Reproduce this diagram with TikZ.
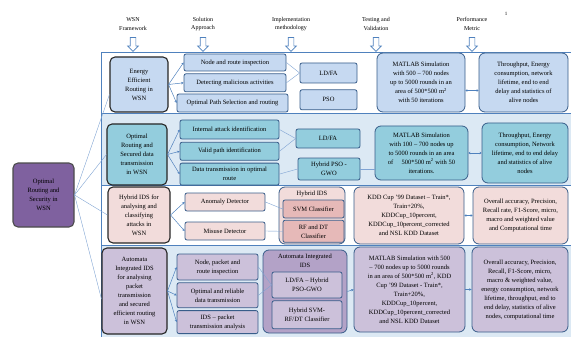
\documentclass[tikz,border=0pt]{standalone}
\usepackage{fontspec}
\setmainfont{Liberation Serif}
\usepackage{xcolor}
\usetikzlibrary{shapes.arrows, arrows.meta, positioning}

\definecolor{frameblue}{HTML}{4F81BD}
\definecolor{boxedge}{HTML}{385D8A}
\definecolor{linkblue}{HTML}{7FA3D3}
\definecolor{rowbg}{HTML}{DCE9F4}
\definecolor{bluefill}{HTML}{C6D9F1}
\definecolor{tealfill}{HTML}{93CDDD}
\definecolor{pinkfill}{HTML}{F2DCDB}
\definecolor{pinkdark}{HTML}{E6B9B8}
\definecolor{lilac}{HTML}{CCC1DA}
\definecolor{lilacdark}{HTML}{B3A2C7}
\definecolor{rootpurple}{HTML}{7F619F}

\begin{document}
\begin{tikzpicture}[
  x=1pt, y=-1pt,
  font=\fontsize{6.5}{9}\selectfont,
  wh/.style 2 args={minimum width=#1pt, minimum height=#2pt},
  hdr/.style={align=center, font=\fontsize{6}{8.5}\selectfont},
  down/.style={single arrow, draw=frameblue, fill=white, line width=0.7pt, shape border rotate=270, minimum height=14pt, inner sep=2.5pt, single arrow head extend=2.5pt},
  head/.style={draw=black!85, line width=1.1pt, rounded corners=5pt, align=center, inner sep=1pt},
  sub/.style={draw=boxedge, line width=0.8pt, rounded corners=2pt, align=center, inner sep=1pt},
  big/.style={draw=boxedge, line width=0.8pt, rounded corners=6pt, align=center, inner sep=2pt},
  link/.style={draw=linkblue, line width=0.4pt},
  arrow/.style={-{Stealth[length=2.5pt,width=2.5pt]}, frameblue, line width=0.5pt},
  both/.style={{Stealth[length=2pt,width=2.5pt]}-{Stealth[length=2pt,width=2.5pt]}, frameblue, line width=0.5pt}
]
\useasboundingbox (0,0) rectangle (571,337);

% Frame and row bands
\fill[rowbg] (101,113) rectangle (575,185);
\fill[rowbg] (101,245) rectangle (575,340);
\draw[frameblue, line width=0.8pt] (575,52) -- (101,52) -- (101,340);
\draw[frameblue, line width=0.8pt] (101,113) -- (575,113);
\draw[frameblue, line width=0.8pt] (101,185) -- (575,185);
\draw[frameblue, line width=0.8pt] (101,245) -- (575,245);

% Column headers
\node[font=\fontsize{5}{6}\selectfont] (pageno) at (506,14) {1};
\node[hdr] (hwsn) at (133,24) {WSN\\Framework};
\node[hdr] (hsol) at (203,24) {Solution\\Approach};
\node[hdr] (himp) at (291,24) {Implementation\\methodology};
\node[hdr] (htest) at (376,24) {Testing and\\Validation};
\node[hdr] (hperf) at (472,24) {Performance\\Metric};
\node[down] (awsn) at (133,43) {};
\node[down] (asol) at (203,43) {};
\node[down] (aimp) at (291,43) {};
\node[down] (atest) at (376,43) {};
\node[down] (aperf) at (472,43) {};

% Root
\node[head, fill=rootpurple, draw=black!70, wh={61}{64}] (root) at (43.5,195) {Optimal\\Routing and\\Security in\\WSN};

% Row 1
\node[head, fill=bluefill, wh={58}{55}] (r1) at (139,84.5) {Energy\\Efficient\\Routing in\\WSN};
\node[sub, fill=bluefill, wh={102}{17}] (r1a) at (235,62.5) {Node and route inspection};
\node[sub, fill=bluefill, wh={102}{18}, below=2pt of r1a] (r1b) {Detecting malicious activities};
\node[sub, fill=bluefill, wh={111}{18}] (r1c) at (232.5,103) {Optimal Path Selection and routing};
\node[sub, fill=bluefill, wh={57}{20}] (r1ld) at (328.5,73) {LD/FA};
\node[sub, fill=bluefill, wh={57}{20}, below=6pt of r1ld] (r1pso) {PSO};
\node[big, fill=bluefill, wh={88}{59}] (r1sim) at (421,82.5) {MATLAB Simulation\\with 500 -- 700 nodes\\up to 5000 rounds in an\\area of 500*500 m\textsuperscript{2}\\with 50 iterations};
\node[big, fill=bluefill, wh={89}{59}] (r1perf) at (523.5,82.5) {Throughput, Energy\\consumption, network\\lifetime, end to end\\delay and statistics of\\alive nodes};

% Row 2
\node[head, fill=tealfill, wh={60}{61}] (r2) at (137,154.5) {Optimal\\Routing and\\Secured data\\transmission\\in WSN};
\node[sub, fill=tealfill, wh={99}{19}] (r2a) at (229.5,129.5) {Internal attack identification};
\node[sub, fill=tealfill, wh={99}{18}, below=2.5pt of r2a] (r2b) {Valid path identification};
\node[sub, fill=tealfill, wh={99}{22}, below=2pt of r2b] (r2c) {Data transmission in optimal\\route};
\node[sub, fill=tealfill, wh={64}{19}] (r2ld) at (328,138.5) {LD/FA};
\node[sub, fill=tealfill, wh={62}{22}] (r2gwo) at (329,169) {Hybrid PSO -\\GWO};
\node[big, fill=tealfill, wh={93}{54}] (r2sim) at (421.5,153) {MATLAB Simulation\\with 100 -- 700 nodes up\\to 5000 rounds in an area\\of \quad 500*500 m\textsuperscript{2} with 50\\iterations.};
\node[big, fill=tealfill, wh={86}{60}] (r2perf) at (525,153) {Throughput, Energy\\consumption, Network\\lifetime, end to end delay\\and statistics of alive\\nodes};

% Row 3
\node[head, fill=pinkfill, wh={62}{56}] (r3) at (139,215) {Hybrid IDS for\\analysing and\\classifying\\attacks in\\WSN};
\node[sub, fill=pinkfill, wh={80}{18}] (r3a) at (225,202) {Anomaly Detector};
\node[sub, fill=pinkfill, wh={80}{18}] (r3b) at (225,231) {Misuse Detector};
\node[big, fill=pinkfill, wh={66}{57}] (r3ids) at (312,215.5) {};
\node[anchor=north] (r3idst) at ([yshift=-1pt]r3ids.north) {Hybrid IDS};
\node[sub, fill=pinkdark, wh={61}{18}] (r3svm) at (313.5,209) {SVM Classifier};
\node[sub, fill=pinkdark, wh={61}{22}, below=1.5pt of r3svm] (r3rf) {RF and DT\\Classifier};
\node[big, fill=pinkfill, wh={110}{57}] (r3data) at (409,215.5) {KDD Cup '99 Dataset -- Train*,\\Train+20\%,\\KDDCup\_10percent,\\KDDCup\_10percent\_corrected\\and NSL KDD Dataset};
\node[big, fill=pinkfill, wh={95}{57}] (r3perf) at (520.5,215.5) {Overall accuracy, Precision,\\Recall rate, F1-Score, micro,\\macro and weighted value\\and Computational time};

% Row 4
\node[head, fill=lilac, wh={65}{86}] (r4) at (134.5,291) {Automata\\Integrated IDS\\for analysing\\packet\\transmission\\and secured\\efficient routing\\in WSN};
\node[sub, fill=lilac, wh={81}{26}] (r4a) at (217.5,267) {Node, packet and\\route inspection};
\node[sub, fill=lilac, wh={81}{25}, below=2pt of r4a] (r4b) {Optimal and reliable\\data transmission};
\node[sub, fill=lilac, wh={81}{23}, below=2pt of r4b] (r4c) {IDS -- packet\\transmission analysis};
\node[big, fill=lilacdark, wh={84}{83}] (r4aut) at (305,291.5) {};
\node[anchor=north, align=center] (r4autt) at ([yshift=-1pt]r4aut.north) {Automata Integrated\\IDS};
\node[sub, fill=lilac, wh={70}{26}] (r4ld) at (307,285) {LD/FA -- Hybrid\\PSO-GWO};
\node[sub, fill=lilac, wh={70}{28}, below=2pt of r4ld] (r4svm) {Hybrid SVM-\\RF/DT Classifier};
\node[big, fill=lilac, wh={111}{85}] (r4sim) at (409.5,289.5) {MATLAB Simulation with 500\\-- 700 nodes up to 5000 rounds\\in an area of 500*500 m\textsuperscript{2}, KDD\\Cup '99 Dataset - Train*,\\Train+20\%,\\KDDCup\_10percent,\\KDDCup\_10percent\_corrected\\and NSL KDD Dataset};
\node[big, fill=lilac, wh={96}{85}] (r4perf) at (520,289.5) {Overall accuracy, Precision,\\Recall, F1-Score, micro,\\macro \& weighted value,\\energy consumption, network\\lifetime, throughput, end to\\end delay, statistics of alive\\nodes, computational time};

% Root to rows
\draw[link] (root.east) -- ([yshift=-10pt]r1.west);
\draw[link] (root.east) -- (r2.west);
\draw[link] (root.east) -- (r3.west);
\draw[link] (root.east) -- ([yshift=-8pt]r4.west);

% Rows to solution approach
\draw[arrow] (r1.east) -- (r1a.west);
\draw[arrow] (r1.east) -- (r1b.west);
\draw[arrow] (r1.east) -- (r1c.west);
\draw[arrow] (r2.east) -- (r2a.west);
\draw[arrow] (r2.east) -- (r2b.west);
\draw[arrow] (r2.east) -- (r2c.west);
\draw[arrow] (r3.east) -- (r3a.west);
\draw[arrow] (r3.east) -- (r3b.west);
\draw[arrow] (r4.east) -- (r4a.west);
\draw[arrow] (r4.east) -- (r4b.west);
\draw[arrow] (r4.east) -- (r4c.west);

% Approach to methodology
\draw[link] (r1a.east) -- (r1ld.west);
\draw[link] (r1b.east) -- (r1ld.west);
\draw[link] (r2a.east) -- (r2ld.west);
\draw[link] (r2b.east) -- (r2ld.west);
\draw[link] (r2c.east) -- (r2gwo.west);
\draw[link] (r2gwo.east) -- (r2sim.west |- r2gwo.east);
\draw[link] (r3a.east) -- (r3svm.west);
\draw[link] (r3b.east) -- (r3rf.west);
\draw[link] (r4a.east) -- (r4ld.west);
\draw[link] (r4b.east) -- (r4ld.west);
\draw[arrow] (r4aut.east) -- (r4sim.west);

% Testing to metrics
\draw[both] ([yshift=-8pt]r1sim.east) -- ([yshift=-8pt]r1perf.west);
\draw[both] (r2sim.east) -- (r2perf.west);
\draw[both] (r3data.east) -- (r3perf.west);
\draw[arrow] (r4sim.east) -- (r4perf.west);

\end{tikzpicture}
\end{document}
